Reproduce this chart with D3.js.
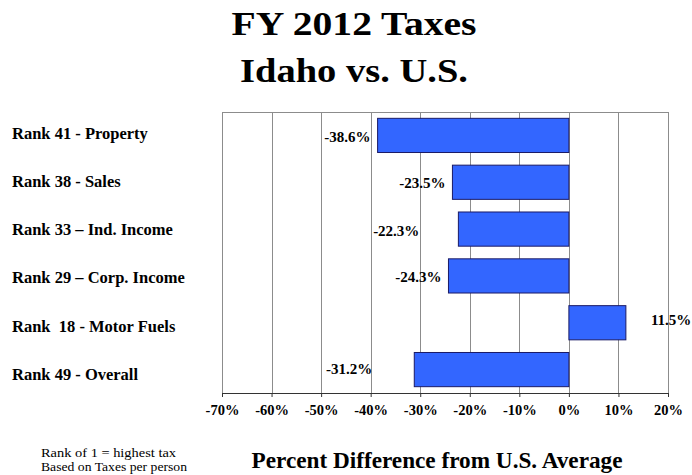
<!DOCTYPE html>
<html>
<head>
<meta charset="utf-8">
<script src="https://cdn.jsdelivr.net/npm/d3@7"></script>
<style>
  html, body { margin: 0; padding: 0; background: #ffffff; }
  svg { display: block; }
  text { font-family: "Liberation Serif", "Times New Roman", serif; fill: #000; }
</style>
</head>
<body>
<svg id="chart" width="692" height="475"></svg>
<script>
// Tax categories, ranked among states (1 = highest tax)
const categories = [
  "Rank 41 - Property",
  "Rank 38 - Sales",
  "Rank 33 \u2013 Ind. Income",
  "Rank 29 \u2013 Corp. Income",
  "Rank  18 - Motor Fuels",
  "Rank 49 - Overall"
];
// Percent difference from the U.S. average
const values = [-38.6, -23.5, -22.3, -24.3, 11.5, -31.2];
// Axis ticks (percent)
const ticks = [-70, -60, -50, -40, -30, -20, -10, 0, 10, 20];

// Hand-placed offsets of the value labels (px)
const labelShiftX = [0, 0, -32, 0, 25, -35];
const labelShiftY = [1, 0, 2, 1, -3, -1];

const svg = d3.select("#chart");
const plot = { left: 222, right: 668, top: 112, bottom: 393 };

const x = d3.scaleLinear().domain([-70, 20]).range([plot.left, plot.right]);
const y = d3.scaleBand().domain(categories)
  .range([plot.top, plot.bottom]).paddingInner(0.27).paddingOuter(0.135);
const rowLabelY = d3.scaleBand().domain(categories).range([109, 398]);

// Title
const title = svg.append("text")
  .attr("text-anchor", "middle")
  .style("font-weight", "bold").style("font-size", "34px");
title.append("tspan").attr("x", 354).attr("y", 35)
  .attr("textLength", 245).attr("lengthAdjust", "spacingAndGlyphs")
  .text("FY 2012 Taxes");
title.append("tspan").attr("x", 354).attr("y", 82)
  .attr("textLength", 228).attr("lengthAdjust", "spacingAndGlyphs")
  .text("Idaho vs. U.S.");

// Plot frame and vertical gridlines
svg.append("rect")
  .attr("x", plot.left + 0.5).attr("y", plot.top + 0.5)
  .attr("width", plot.right - plot.left).attr("height", plot.bottom - plot.top)
  .attr("fill", "none").attr("stroke", "#8c8c8c").attr("stroke-width", 1);

svg.append("g").selectAll("line")
  .data(ticks.slice(1, -1))
  .join("line")
  .attr("x1", d => Math.round(x(d)) + 0.5).attr("x2", d => Math.round(x(d)) + 0.5)
  .attr("y1", plot.top).attr("y2", plot.bottom)
  .attr("stroke", "#8c8c8c").attr("stroke-width", 1);

// Bars
const rows = categories.map((c, i) => ({ c, v: values[i], i }));
svg.append("g").selectAll("rect")
  .data(rows)
  .join("rect")
  .attr("x", d => x(Math.min(0, d.v)))
  .attr("y", d => y(d.c))
  .attr("width", d => Math.abs(x(d.v) - x(0)))
  .attr("height", y.bandwidth())
  .attr("fill", "#3366ff")
  .attr("stroke", "#1a1a66").attr("stroke-width", 1);

// Bottom axis
const axis = d3.axisBottom(x)
  .tickValues(ticks)
  .tickSize(4)
  .tickPadding(8)
  .tickFormat(d => d + "%");
const gAxis = svg.append("g")
  .attr("transform", `translate(0,${plot.bottom})`)
  .call(axis);
gAxis.select(".domain").attr("stroke", "#333");
gAxis.selectAll(".tick line").attr("stroke", "#333");
gAxis.selectAll(".tick text")
  .style("font-family", "'Liberation Serif', 'Times New Roman', serif")
  .style("font-weight", "bold").style("font-size", "14.5px").attr("fill", "#000");

// Value labels
svg.append("g").selectAll("text")
  .data(rows)
  .join("text")
  .attr("x", d => (d.v < 0 ? x(d.v) - 7 : x(d.v)) + labelShiftX[d.i])
  .attr("y", d => y(d.c) + y.bandwidth() / 2 + labelShiftY[d.i])
  .attr("dy", "0.35em")
  .attr("text-anchor", d => d.v < 0 ? "end" : "start")
  .style("font-weight", "bold").style("font-size", "15px")
  .text(d => d.v.toFixed(1) + "%");

// Category labels
svg.append("g").selectAll("text")
  .data(categories)
  .join("text")
  .attr("x", 12)
  .attr("y", d => rowLabelY(d) + rowLabelY.bandwidth() / 2)
  .attr("dy", "0.35em")
  .style("font-weight", "bold").style("font-size", "16.5px")
  .style("white-space", "pre")
  .text(d => d);

// Axis title
svg.append("text")
  .attr("x", 437).attr("y", 468)
  .attr("text-anchor", "middle")
  .attr("textLength", 371).attr("lengthAdjust", "spacingAndGlyphs")
  .style("font-weight", "bold").style("font-size", "23px")
  .text("Percent Difference from U.S. Average");

// Notes
const note = svg.append("text").style("font-size", "12px");
note.append("tspan").attr("x", 41).attr("y", 457)
  .attr("textLength", 135).attr("lengthAdjust", "spacingAndGlyphs")
  .text("Rank of 1 = highest tax");
note.append("tspan").attr("x", 41).attr("y", 471)
  .attr("textLength", 146).attr("lengthAdjust", "spacingAndGlyphs")
  .text("Based on Taxes per person");
</script>
</body>
</html>
